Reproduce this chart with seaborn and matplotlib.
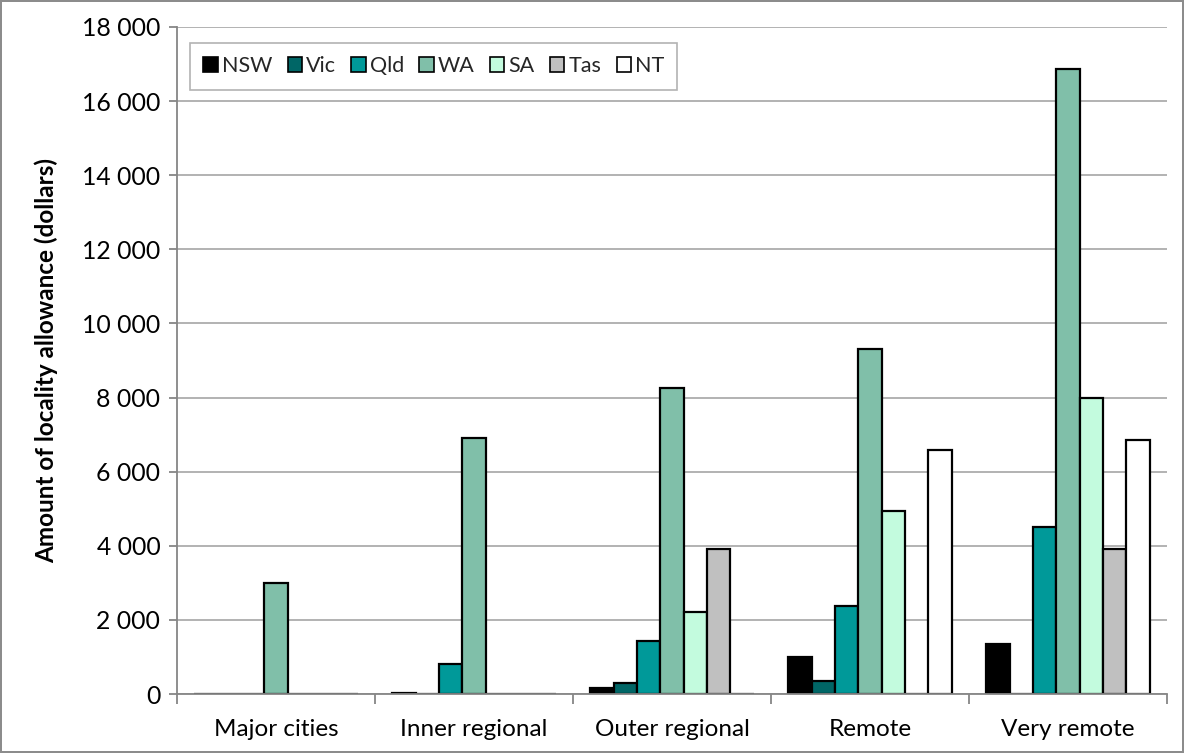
import matplotlib
matplotlib.use("Agg")
import matplotlib.pyplot as plt
from matplotlib.ticker import FixedLocator, FuncFormatter
import seaborn as sns
import pandas as pd

# Remoteness areas and jurisdictions
regions = ["Major cities", "Inner regional", "Outer regional", "Remote", "Very remote"]
states = ["NSW", "Vic", "Qld", "WA", "SA", "Tas", "NT"]

# Locality allowance (dollars) per jurisdiction, one value per remoteness area
nsw = [0, 30, 170, 1010, 1350]
vic = [0, 0, 290, 350, 0]
qld = [0, 810, 1420, 2370, 4520]
wa = [3000, 6920, 8270, 9300, 16880]
sa = [0, 0, 2200, 4940, 7980]
tas = [0, 0, 3900, 0, 3910]
nt = [0, 0, 0, 6580, 6860]

colors = ["#000000", "#006666", "#009999", "#80BFA9", "#C3FBDE", "#C0C0C0", "#FFFFFF"]

series = {"NSW": nsw, "Vic": vic, "Qld": qld, "WA": wa, "SA": sa, "Tas": tas, "NT": nt}
df = pd.DataFrame(
    [(r, s, v) for s in states for r, v in zip(regions, series[s])],
    columns=["region", "state", "value"],
)

sns.set_theme(style="white")
plt.rcParams["font.family"] = ["Lato", "DejaVu Sans"]

fig = plt.figure(figsize=(11.84, 7.53), dpi=100)
fig.patch.set_facecolor("white")
fig.patch.set_edgecolor("#8c8c8c")
fig.patch.set_linewidth(1.5)
ax = fig.add_axes([177 / 1184, 1 - 694 / 753, (1167 - 177) / 1184, (694 - 27) / 753])

sns.barplot(
    data=df, x="region", y="value", hue="state",
    order=regions, hue_order=states, palette=colors,
    edgecolor="black", linewidth=1.6, width=7 / 8.5,
    errorbar=None, ax=ax, saturation=1,
)

grid_c = "#a6a6a6"
axis_c = "#868686"

ax.set_ylim(0, 18000)
ax.set_xlim(-0.5, len(regions) - 0.5)
ax.yaxis.set_major_locator(FixedLocator(range(0, 18001, 2000)))
ax.yaxis.set_major_formatter(FuncFormatter(lambda v, p: f"{int(v):,}".replace(",", " ")))
ax.set_axisbelow(True)
ax.yaxis.grid(True, color=grid_c, linewidth=1.2)
ax.xaxis.grid(False)

for side in ["top", "right"]:
    ax.spines[side].set_visible(False)
for side in ["left", "bottom"]:
    ax.spines[side].set_color(axis_c)
    ax.spines[side].set_linewidth(1.3)
    ax.spines[side].set_zorder(5)

# Category separators below the axis
ax.set_xticks([i - 0.5 for i in range(len(regions) + 1)], minor=True)
ax.tick_params(axis="x", which="minor", length=7, width=1.3, color=axis_c, direction="out", bottom=True)
ax.tick_params(axis="x", which="major", length=0, pad=18, labelsize=17.5, labelcolor="black")
ax.tick_params(axis="y", which="major", length=6, width=1.3, color=axis_c, direction="out",
               left=True, pad=6, labelsize=17.8, labelcolor="black")

ax.set_xlabel("")
ax.set_ylabel("Amount of locality allowance (dollars)", fontsize=17.5, fontweight="bold",
              labelpad=17, color="black")

leg = ax.legend(
    loc="upper left", bbox_to_anchor=(190 / 1184, 1 - 43 / 753), bbox_transform=fig.transFigure,
    ncol=7, frameon=True, fancybox=False, edgecolor="#a0a0a0", fontsize=15.5,
    handlelength=0.67, handleheight=0.67, handletextpad=0.18, columnspacing=0.72,
    borderpad=0.62, borderaxespad=0,
)
leg.get_frame().set_linewidth(1.2)
for h in leg.legend_handles:
    h.set_edgecolor("black")
    h.set_linewidth(1.2)

fig.savefig("out.png", dpi=100, facecolor=fig.get_facecolor(), edgecolor=fig.get_edgecolor())
